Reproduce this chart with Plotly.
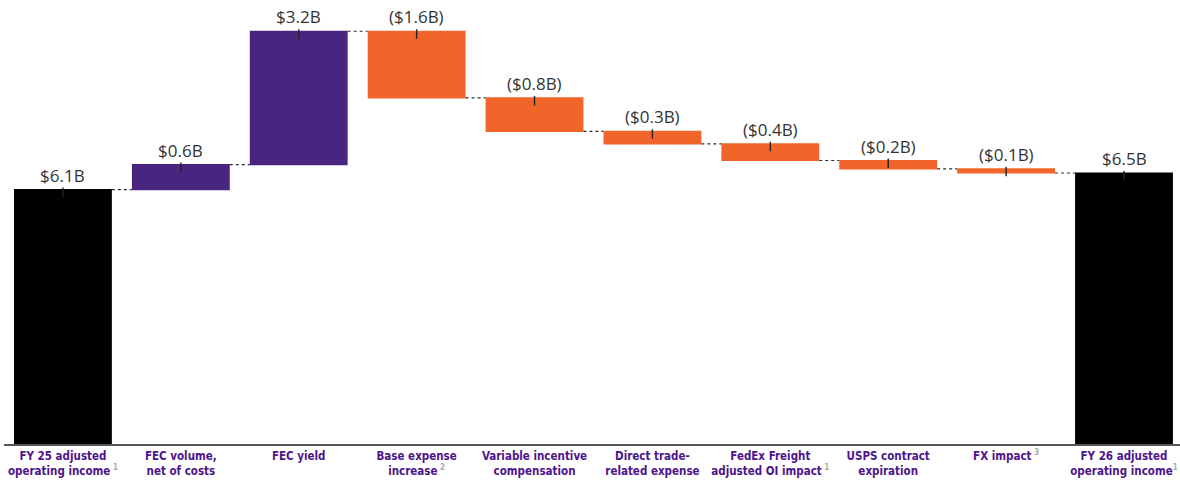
import numpy as np
import plotly.graph_objects as go

categories = [
    "FY 25 adjusted<br>operating income<span style='color:#aaaaaa'><sup> 1</sup></span>",
    "FEC volume,<br>net of costs",
    "FEC yield",
    "Base expense<br>increase<span style='color:#aaaaaa'><sup> 2</sup></span>",
    "Variable incentive<br>compensation",
    "Direct trade-<br>related expense",
    "FedEx Freight<br>adjusted OI impact<span style='color:#aaaaaa'><sup> 1</sup></span>",
    "USPS contract<br>expiration",
    "FX impact<span style='color:#aaaaaa'><sup> 3</sup></span>",
    "FY 26 adjusted<br>operating income<span style='color:#aaaaaa'><sup>1</sup></span>",
]
measures = ["absolute"] + ["relative"] * 8 + ["total"]
values = [6.1, 0.6, 3.2, -1.6, -0.8, -0.3, -0.4, -0.2, -0.1, 0]
value_labels = ["$6.1B", "$0.6B", "$3.2B", "($1.6B)", "($0.8B)", "($0.3B)",
                "($0.4B)", "($0.2B)", "($0.1B)", "$6.5B"]

PURPLE = "#4a2580"
ORANGE = "#f2652a"
LABEL_PURPLE = "#4d148c"

# bar tops from running totals
cum = np.cumsum(values[:-1])
ends = list(cum) + [cum[-1]]
starts = [0] + list(cum[:-1]) + [0]
tops = [max(s, e) for s, e in zip(starts, ends)]

fig = go.Figure()
fig.add_trace(go.Waterfall(
    x=categories, y=values, measure=measures,
    increasing=dict(marker=dict(color=PURPLE)),
    decreasing=dict(marker=dict(color=ORANGE)),
    totals=dict(marker=dict(color="#000000")),
    connector=dict(line=dict(color="#2a2a3a", width=1.2, dash="dot")),
    textposition="none",
    hoverinfo="skip",
))
# small tick marks at the top centre of each bar
fig.add_trace(go.Scatter(
    x=categories, y=tops, mode="markers",
    marker=dict(size=1, color="rgba(0,0,0,0)"),
    error_y=dict(type="data", symmetric=False,
                 array=[0.05] * len(tops), arrayminus=[0.18] * len(tops),
                 width=0, thickness=1.4, color="#222222"),
    hoverinfo="skip", showlegend=False,
))
for c, t, lab in zip(categories, tops, value_labels):
    fig.add_annotation(x=c, y=t, text=lab, showarrow=False,
                       yanchor="bottom", yshift=1,
                       font=dict(family="Open Sans", size=17, color="#333333"))

fig.update_layout(
    width=1180, height=485,
    margin=dict(l=4, r=0, t=0, b=41),
    plot_bgcolor="white", paper_bgcolor="white",
    showlegend=False, waterfallgap=0.17,
    xaxis=dict(
        range=[-0.5, 9.475],
        showgrid=False, showline=True, linecolor="#555555", linewidth=1.5,
        ticks="", tickfont=dict(family="DejaVu Sans Condensed", size=11.5, weight="bold",
                                color=LABEL_PURPLE),
        fixedrange=True,
    ),
    yaxis=dict(range=[0, 10.65], visible=False, showgrid=False, zeroline=False),
)

fig.write_html("out.html")
